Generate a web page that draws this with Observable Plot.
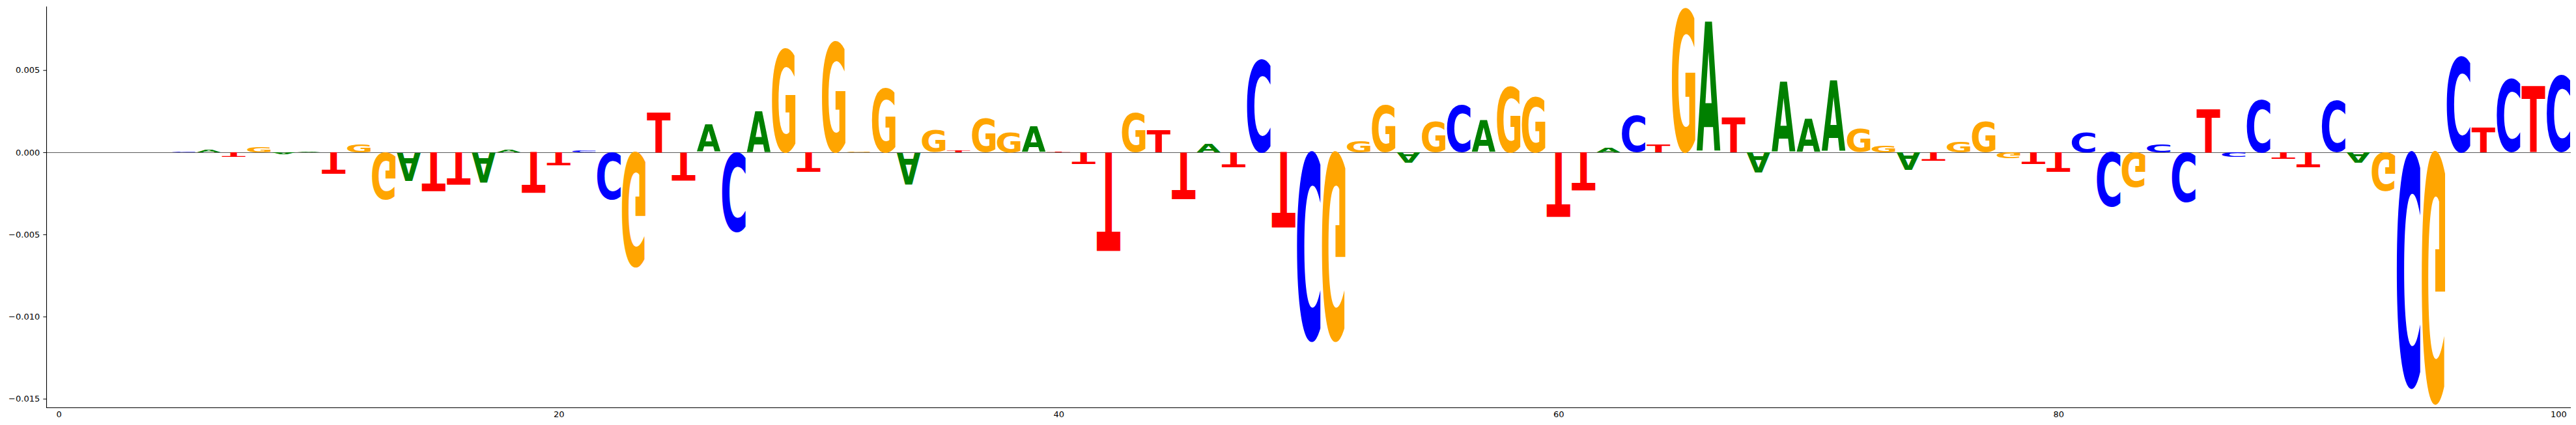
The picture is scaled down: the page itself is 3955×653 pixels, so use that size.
<!DOCTYPE html>
<html>
<head>
<meta charset="utf-8">
<script src="https://cdn.jsdelivr.net/npm/d3@7"></script>
<script src="https://cdn.jsdelivr.net/npm/@observablehq/plot@0.6"></script>
<style>
  html, body { margin: 0; padding: 0; background: #fff; overflow: hidden; }
</style>
</head>
<body>
<div id="chart"></div>
<script>
// posiciones 0..100, un valor por base y posicion
const positions = d3.range(101)
const letters = ['A', 'C', 'G', 'T']
const colors = { A: 'green', C: 'blue', G: 'orange', T: 'red' }

const valuesA = [
  0, 0, 0, 0, 0, 0, 0.00013, 0, 0, -0.00012,
  0.00005, 0, 0, 0, -0.0017, 0, 0, -0.00185, 0.00016, 0,
  0, 0, 0, 0, 0, 0, 0.00167, 0, 0.00251, 0,
  0, 0, 0, 0, -0.00193, 0, 0, 0, 0, 0.00157,
  0, 0, 0, 0, 0, 0, 0.00054, 0, 0, 0,
  0, 0, 0, 0, -0.00063, 0, 0, 0.00193, 0, 0,
  0, 0, 0.00023, 0, 0, 0, 0.00796, 0, -0.00125, 0.00429,
  0.00203, 0.00432, 0, 0, -0.00107, 0, 0, 0, 0, 0,
  0, 0, 0, 0, 0, 0, 0, 0, 0, 0,
  0, 0, -0.00063, 0, 0, 0, 0, 0, 0, 0,
  0,
]
const valuesC = [
  0, 0, 0, 0, 0, 0.00003, 0, 0, 0, 0,
  0, 0, 0, 0, 0, 0, 0, 0, 0, 0,
  0, 0.0001, -0.00292, 0, 0, 0, 0, -0.00491, 0, 0,
  0, 0, 0, 0, 0, 0, 0, 0, 0, 0,
  0, 0, 0, 0, 0, 0, 0, 0, 0.00577, 0,
  -0.01167, 0, 0, 0, 0, 0, 0.00292, 0, 0, 0,
  0, 0, 0, 0.00226, 0, 0, 0, 0, 0, 0,
  0, 0, 0, 0, 0, 0, 0, 0, 0, 0,
  0, 0.00124, -0.00338, 0, 0.00049, -0.00305, 0, -0.00025, 0.00325, 0,
  0, 0.00318, 0, 0, -0.01456, 0, 0.00589, 0, 0.00453, 0,
  0.0047,
]
const valuesG = [
  0, 0, 0, 0, 0, 0, 0, 0, 0.00033, 0,
  0, 0, 0.00046, -0.00292, 0, 0, 0, 0, 0, 0,
  0, 0, 0, -0.00706, 0, 0, 0, 0, 0, 0.0064,
  0, 0.00683, 0.00004, 0.00399, 0, 0.00132, 0, 0.00211, 0.00124, 0,
  0, 0, 0, 0.00241, 0, 0, 0, 0, 0, 0,
  0, -0.01167, 0.00069, 0.00292, 0, 0.00186, 0, 0, 0.0041, 0.00343,
  0, 0, 0, 0, 0, 0.00887, 0, 0, 0, 0,
  0, 0, 0.00145, 0.00041, 0, 0, 0.00066, 0.00186, -0.00036, 0,
  0, 0, 0, -0.00214, 0, 0, 0, 0, 0, 0,
  0, 0, 0, -0.00234, 0, -0.01553, 0, 0, 0, 0,
  0,
]
const valuesT = [
  0, 0, 0, 0, 0, 0, 0, -0.00026, 0, 0,
  0, -0.00129, 0, 0, 0, -0.00242, -0.00198, 0, 0, -0.00249,
  -0.00079, 0, 0, 0, 0.00247, -0.00173, 0, 0, 0, 0,
  -0.00122, 0, 0, 0, 0, 0, 0.00008, 0, 0, 0,
  0.00004, -0.00073, -0.00605, 0, 0.00135, -0.00288, 0, -0.00094, 0, -0.00467,
  0, 0, 0, 0, 0, 0, 0, 0, 0, 0,
  -0.00399, -0.00237, 0, 0, 0.00045, 0, 0, 0.00214, 0, 0,
  0, 0, 0, 0, 0, -0.00054, 0, 0, 0, -0.00073,
  -0.00122, 0, 0, 0, 0, 0, 0.00267, 0, 0, -0.00041,
  -0.00094, 0, 0, 0, 0, 0, 0, 0.00153, 0, 0.00409,
  0,
]

const xTicks = [0, 20, 40, 60, 80, 100]
const yTicks = [-0.015, -0.01, -0.005, 0, 0.005]

const series = { A: valuesA, C: valuesC, G: valuesG, T: valuesT }
const glyphWidth = 0.95

// apilamos: positivos hacia arriba, negativos hacia abajo (de menor a mayor)
const glyphs = []
positions.forEach((p, i) => {
  const vals = letters.map(l => ({ letter: l, v: series[l][i] })).filter(d => d.v !== 0)
  let top = 0
  let bottom = 0
  vals.filter(d => d.v > 0).sort((a, b) => a.v - b.v).forEach(d => {
    glyphs.push({ pos: p, letter: d.letter, y1: top, y2: top + d.v, flip: false })
    top += d.v
  })
  vals.filter(d => d.v < 0).sort((a, b) => b.v - a.v).forEach(d => {
    glyphs.push({ pos: p, letter: d.letter, y1: bottom + d.v, y2: bottom, flip: true })
    bottom += d.v
  })
})
const yMin = d3.min(glyphs, d => d.y1)
const yMax = d3.max(glyphs, d => d.y2)

// medidas reales de tinta de cada letra (DejaVu Sans Bold)
const fontSize = 100
const ctx = document.createElement('canvas').getContext('2d')
ctx.font = `bold ${fontSize}px "DejaVu Sans"`
const ink = {}
letters.forEach(l => {
  const m = ctx.measureText(l)
  ink[l] = {
    L: m.actualBoundingBoxLeft,
    R: m.actualBoundingBoxRight,
    A: m.actualBoundingBoxAscent,
    D: m.actualBoundingBoxDescent,
  }
})

// cada letra se estira para llenar su caja (como logomaker)
function drawGlyphs(index, scales, values) {
  const g = d3.create('svg:g')
  for (const i of index) {
    const d = glyphs[i]
    const m = ink[d.letter]
    const bx0 = Math.min(values.x1[i], values.x2[i])
    const bx1 = Math.max(values.x1[i], values.x2[i])
    const top = Math.min(values.y1[i], values.y2[i])
    const bot = Math.max(values.y1[i], values.y2[i])
    const sx = (bx1 - bx0) / (m.L + m.R)
    const sy = (bot - top) / (m.A + m.D)
    const t = d.flip
      ? `translate(${bx0},${bot}) scale(${sx},${-sy}) translate(${m.L},${m.A})`
      : `translate(${bx0},${top}) scale(${sx},${sy}) translate(${m.L},${m.A})`
    g.append('text')
      .attr('x', 0)
      .attr('y', 0)
      .attr('font-family', 'DejaVu Sans')
      .attr('font-weight', 'bold')
      .attr('font-size', fontSize)
      .attr('text-anchor', 'start')
      .attr('fill', colors[d.letter])
      .attr('transform', t)
      .text(d.letter)
  }
  return g.node()
}

let chart = Plot.plot({
  width: 3955,
  height: 653,
  marginLeft: 71,
  marginRight: 8,
  marginTop: 10,
  marginBottom: 27,
  style: { fontFamily: 'DejaVu Sans', fontSize: '13px', color: 'black', background: 'white' },
  x: {
    domain: [-0.5, positions.length - 0.5],
    ticks: xTicks,
    tickSize: 0,
    tickPadding: 5,
    label: null,
  },
  y: {
    domain: [yMin, yMax],
    ticks: yTicks,
    tickFormat: d3.format('.3f'),
    tickSize: 4.7,
    tickPadding: 5.6,
    label: null,
  },
  marks: [
    Plot.ruleY([0], { stroke: '#555', strokeWidth: 1 }),
    Plot.rect(glyphs, {
      x1: d => d.pos - glyphWidth / 2,
      x2: d => d.pos + glyphWidth / 2,
      y1: 'y1',
      y2: 'y2',
      fill: d => colors[d.letter],
      render: drawGlyphs,
    }),
    Plot.ruleX([-0.5], { stroke: 'black', strokeWidth: 1.1 }),
    Plot.ruleY([yMin], { stroke: 'black', strokeWidth: 1.1 }),
  ],
})
d3.select('#chart').append(() => chart)
</script>
</body>
</html>
